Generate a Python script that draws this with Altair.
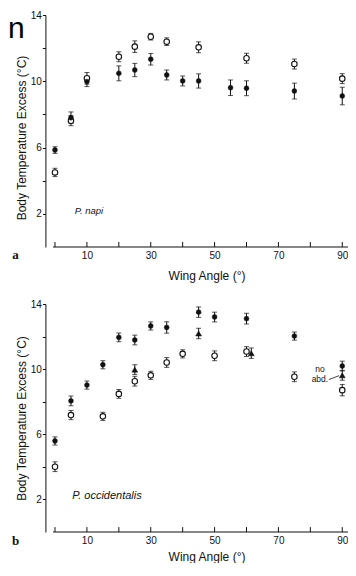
import altair as alt
import pandas as pd

# ---------------- data ----------------
# Panel a: P. napi
a_filled_angle = [0, 5, 10, 20, 25, 30, 35, 40, 45, 55, 60, 75, 90]
a_filled_temp = [5.85, 7.80, 9.98, 10.48, 10.68, 11.33, 10.38, 10.02, 10.02, 9.61, 9.58, 9.41, 9.11]
a_filled_err = [0.20, 0.35, 0.30, 0.45, 0.40, 0.35, 0.30, 0.30, 0.43, 0.47, 0.45, 0.48, 0.53]

a_open_angle = [0, 5, 10, 20, 25, 30, 35, 45, 60, 75, 90]
a_open_temp = [4.50, 7.62, 10.18, 11.48, 12.09, 12.69, 12.39, 12.05, 11.39, 11.04, 10.16]
a_open_err = [0.25, 0.30, 0.35, 0.30, 0.35, 0.20, 0.23, 0.33, 0.30, 0.30, 0.30]

# Panel b: P. occidentalis
b_filled_angle = [0, 5, 10, 15, 20, 25, 30, 35, 45, 50, 60, 75, 90]
b_filled_temp = [5.59, 8.05, 9.02, 10.27, 11.95, 11.79, 12.65, 12.56, 13.50, 13.20, 13.10, 12.03, 10.19]
b_filled_err = [0.25, 0.30, 0.25, 0.25, 0.27, 0.30, 0.25, 0.35, 0.32, 0.30, 0.33, 0.25, 0.30]

b_open_angle = [0, 5, 15, 20, 25, 30, 35, 40, 50, 60, 75, 90]
b_open_temp = [4.01, 7.18, 7.10, 8.48, 9.26, 9.62, 10.41, 10.94, 10.82, 11.08, 9.53, 8.71]
b_open_err = [0.30, 0.28, 0.25, 0.27, 0.30, 0.25, 0.30, 0.25, 0.30, 0.30, 0.30, 0.35]

b_tri_angle = [25, 45, 61.5, 90]
b_tri_temp = [9.97, 12.19, 10.98, 9.62]
b_tri_err = [0.30, 0.32, 0.32, 0.30]

x_ticks = [0, 10, 20, 30, 40, 50, 60, 70, 80, 90]
x_labels = [10, 30, 50, 70, 90]
y_ticks = [2, 4, 6, 8, 10, 12, 14]

# ---------------- layout / styling ----------------
INK = "#111111"
FONT = "Liberation Sans"
CW, CH = 340, 555                 # whole drawing (svg) size
XDOM = [-3, 91.8]
XRANGE = [37.42, 340]
YDOM = [0, 14]
AXIS_START = -0.6


def frame(angles, temps, errs, series):
    return pd.DataFrame({
        "angle": angles,
        "temp": temps,
        "lo": [t - e for t, e in zip(temps, errs)],
        "hi": [t + e for t, e in zip(temps, errs)],
        "series": series,
    })


def panel(df, yrange, species, species_pos, species_size, letter, letter_y, xtitle_y,
          title_y=None, extra=None, corner=None):
    x_axis = alt.Axis(
        orient="bottom", offset=yrange[0] - CH,
        values=x_labels, domain=False, ticks=False, tickSize=0, grid=False,
        labelFlush=False, labelPadding=3, labelFont=FONT, labelFontSize=10, labelColor=INK,
        title="Wing Angle (°)", titleFont=FONT, titleFontSize=12,
        titleFontWeight="normal", titleColor=INK,
        titleX=198.5, titleY=xtitle_y, titleBaseline="middle",
    )
    ykw = dict(titleY=title_y) if title_y is not None else {}
    y_axis = alt.Axis(
        orient="left", offset=-XRANGE[0],
        values=y_ticks, labelExpr="datum.value % 4 == 2 ? datum.label : ''",
        domain=True, domainColor=INK, domainWidth=1,
        ticks=True, tickSize=3, tickColor=INK, tickWidth=1, grid=False,
        labelPadding=1, labelFont=FONT, labelFontSize=10, labelColor=INK,
        title="Body Temperature Excess (°C)", titleFont=FONT, titleFontSize=12,
        titleFontWeight="normal", titleColor=INK, titlePadding=2, **ykw,
    )
    xs = alt.Scale(domain=XDOM, range=XRANGE, nice=False, zero=False)
    ys = alt.Scale(domain=YDOM, range=yrange, nice=False, zero=False)

    def X(field="angle"):
        return alt.X(f"{field}:Q", scale=xs, axis=x_axis)

    def Y(field):
        return alt.Y(f"{field}:Q", scale=ys, axis=y_axis)

    def XD(v):
        return alt.X(datum=v, type="quantitative", scale=xs, axis=x_axis)

    def YD(v):
        return alt.Y(datum=v, type="quantitative", scale=ys, axis=y_axis)

    base = alt.Chart(df)
    bars = base.mark_rule(color=INK, strokeWidth=1).encode(x=X(), y=Y("lo"), y2="hi")
    cap_lo = base.mark_tick(color=INK, orient="horizontal", size=5, thickness=1).encode(x=X(), y=Y("lo"))
    cap_hi = base.mark_tick(color=INK, orient="horizontal", size=5, thickness=1).encode(x=X(), y=Y("hi"))
    opened = base.transform_filter(alt.datum.series == "open").mark_point(
        shape="circle", filled=True, fill="white", stroke=INK, strokeWidth=1.1, size=30, opacity=1
    ).encode(x=X(), y=Y("temp"))
    filled = base.transform_filter(alt.datum.series == "filled").mark_point(
        shape="circle", filled=True, fill=INK, stroke=INK, strokeWidth=0.5, size=24, opacity=1
    ).encode(x=X(), y=Y("temp"))
    layers = [bars, cap_lo, cap_hi, opened, filled]
    if (df.series == "tri").any():
        tri = base.transform_filter(alt.datum.series == "tri").mark_point(
            shape="triangle-up", filled=True, fill=INK, stroke=INK, strokeWidth=0.5, size=34, opacity=1
        ).encode(x=X(), y=Y("temp"))
        layers.append(tri)

    # x axis line (starting just right of the y axis) with inward ticks
    axline = alt.Chart(pd.DataFrame({"a": [AXIS_START], "b": [XDOM[1]]})).mark_rule(
        color=INK, strokeWidth=1
    ).encode(x=X("a"), x2="b", y=YD(0))
    xt = alt.Chart(pd.DataFrame({"angle": x_ticks})).mark_rule(color=INK, strokeWidth=1).encode(
        x=X(), y=YD(0), y2=alt.Y2(datum=0.3)
    )
    layers += [axline, xt]

    sp = alt.Chart(pd.DataFrame({"t": [species]})).mark_text(
        align="left", baseline="middle", font=FONT, fontStyle="italic",
        fontSize=species_size, color=INK
    ).encode(x=XD(species_pos[0]), y=YD(species_pos[1]), text="t:N")
    lt = alt.Chart(pd.DataFrame({"t": [letter]})).mark_text(
        align="center", baseline="middle", font="Liberation Serif", fontWeight="bold",
        fontSize=13, color=INK
    ).encode(x=alt.value(7.5), y=alt.value(letter_y), text="t:N")
    layers += [sp, lt]
    if corner:
        cn = alt.Chart(pd.DataFrame({"t": [corner]})).mark_text(
            align="left", baseline="alphabetic", font=FONT, fontSize=30, color="#000000"
        ).encode(x=alt.value(0), y=alt.value(30), text="t:N")
        layers.append(cn)
    if extra:
        layers += [e(XD, YD) for e in extra]
    return alt.layer(*layers)


df_a = pd.concat([
    frame(a_filled_angle, a_filled_temp, a_filled_err, "filled"),
    frame(a_open_angle, a_open_temp, a_open_err, "open"),
], ignore_index=True)
df_b = pd.concat([
    frame(b_filled_angle, b_filled_temp, b_filled_err, "filled"),
    frame(b_open_angle, b_open_temp, b_open_err, "open"),
    frame(b_tri_angle, b_tri_temp, b_tri_err, "tri"),
], ignore_index=True)

note_style = dict(align="center", baseline="middle", font=FONT, fontSize=8.5, color=INK)


def note_no(XD, YD):
    return alt.Chart(pd.DataFrame({"t": ["no"]})).mark_text(**note_style).encode(
        x=XD(83), y=YD(9.98), text="t:N")


def note_abd(XD, YD):
    return alt.Chart(pd.DataFrame({"t": ["abd."]})).mark_text(**note_style).encode(
        x=XD(83), y=YD(9.42), text="t:N")


def pointer(XD, YD):
    return alt.Chart(pd.DataFrame({"t": [0]})).mark_rule(color=INK, strokeWidth=0.8).encode(
        x=XD(85.8), x2=alt.X2(datum=89.0), y=YD(9.36), y2=alt.Y2(datum=9.6))


# pixel ranges of the two y scales (bottom, top) inside the drawing
pa = panel(df_a, [239, 7], "P. napi", (6.2, 2.17), 9.5, "a", 247, 28,
           title_y=129.5, corner="n")
pb = panel(df_b, [524, 296], "P. occidentalis", (5.4, 2.23), 11, "b", 532.5, 24,
           extra=[note_no, note_abd, pointer])

chart = alt.layer(pa, pb).resolve_scale(y="independent").resolve_axis(
    x="independent", y="independent"
).properties(
    width=CW, height=CH,
    autosize=alt.AutoSizeParams(type="none"),
    padding=0,
    background="white",
).configure_view(stroke=None)

chart.save("out.html", embed_options={"renderer": "svg", "actions": False})
